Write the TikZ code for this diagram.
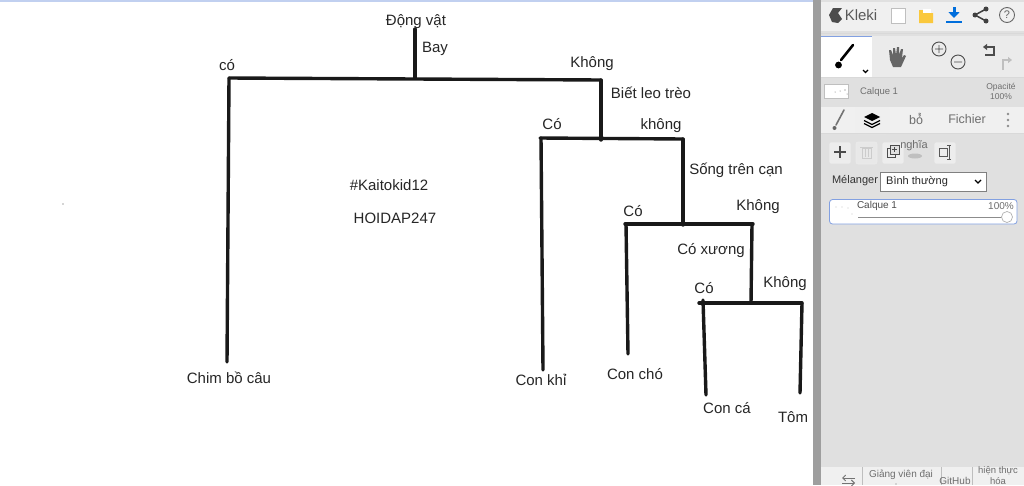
\documentclass[tikz,border=0pt]{standalone}
\usepackage{fontspec}
\setmainfont{Liberation Sans}
\usepackage{xcolor}
\usetikzlibrary{arrows.meta}
\definecolor{NenPanel}{RGB}{224,224,224}
\definecolor{ThanhXam}{RGB}{158,158,158}
\definecolor{ChuXam}{RGB}{110,110,110}
\definecolor{VienXanh}{RGB}{130,160,225}
\definecolor{XanhTai}{RGB}{0,110,220}
\definecolor{VangMo}{RGB}{250,200,60}
\tikzset{
  nhan/.style={font=\fontsize{15}{17}\selectfont,text=black!85,inner sep=0pt},
  nhanh/.style={line width=3.4pt,black!90,line cap=round},
  chunho/.style={font=\fontsize{10}{11}\selectfont,text=ChuXam,inner sep=0pt,align=center},
  tab/.style={font=\fontsize{12.5}{14}\selectfont,text=ChuXam,inner sep=0pt},
  nut/.style={draw=black!12,fill=black!7,rounded corners=2pt,line width=0.6pt},
  bieutuong/.style={line width=1.4pt,black!65}
}
\begin{document}
\begin{tikzpicture}[x=1pt,y=-1pt,>=Latex]
  \useasboundingbox (0,0) rectangle (1024,485);
  \fill[white] (0,0) rectangle (1024,485);
  \fill[VienXanh!50] (0,0) rectangle (1024,1.5);

  % cac nhan cua cay
  \node[nhan] (dongvat) at (416,22) {Động vật};
  \node[nhan] (bay) at (435,49) {Bay};
  \node[nhan] (co1) at (227,65) {có};
  \node[nhan] (khong1) at (592,64) {Không};
  \node[nhan] (leotreo) at (651,93) {Biết leo trèo};
  \node[nhan] (co2) at (552,124) {Có};
  \node[nhan] (khong2) at (661,126) {không};
  \node[nhan] (trencan) at (736,170) {Sống trên cạn};
  \node[nhan] (co3) at (633,211) {Có};
  \node[nhan] (khong3) at (758,207) {Không};
  \node[nhan] (coxuong) at (711,251) {Có xương};
  \node[nhan] (co4) at (704,288) {Có};
  \node[nhan] (khong4) at (785,284) {Không};
  \node[nhan] (chimbocau) at (229,378) {Chim bồ câu};
  \node[nhan] (conkhi) at (541,380) {Con khỉ};
  \node[nhan] (concho) at (635,374) {Con chó};
  \node[nhan] (conca) at (727,408) {Con cá};
  \node[nhan] (tom) at (793,417) {Tôm};
  \node[nhan] (kaitokid) at (389,185) {\#Kaitokid12};
  \node[nhan] (hoidap) at (395,218) {HOIDAP247};
  \fill[black!70] (63,204) circle (0.7pt);

  % cac diem re nhanh
  \coordinate (goc) at (415,29);
  \coordinate (r1) at (415,78);
  \coordinate (r1t) at (229,78);
  \coordinate (r1p) at (601,80);
  \coordinate (r2) at (601,140);
  \coordinate (r2t) at (540,138);
  \coordinate (r2p) at (683,139);
  \coordinate (r3) at (683,225);
  \coordinate (r3t) at (625,224);
  \coordinate (r3p) at (753,224);
  \coordinate (r4) at (751,303);
  \coordinate (r4t) at (699,303);
  \coordinate (r4p) at (802,303);
  \coordinate (l1) at (227,362);
  \coordinate (l2) at (543,370);
  \coordinate (l3) at (628,354);
  \coordinate (l4) at (706,395);
  \coordinate (l5) at (800,393);

  \draw[nhanh] (goc) -- (r1);
  \draw[nhanh] (r1t) -- (r1p);
  \draw[nhanh] (r1t) -- (l1);
  \draw[nhanh] (r1p) -- (r2);
  \draw[nhanh] (r2t) -- (r2p);
  \draw[nhanh] (541,138) -- (l2);
  \draw[nhanh] (r2p) -- (r3);
  \draw[nhanh] (r3t) -- (r3p);
  \draw[nhanh] (626,224) -- (l3);
  \draw[nhanh] (752,224) -- (r4);
  \draw[nhanh] (r4t) -- (r4p);
  \draw[nhanh] (703,300) -- (l4);
  \draw[nhanh] (r4p) -- (l5);

  % khung ben phai
  \fill[NenPanel] (821,0) rectangle (1024,485);
  \fill[ThanhXam] (813,0) rectangle (821,485);
  \fill[black!6] (821,2) rectangle (1024,31);
  \fill[black!8] (821,36) rectangle (1024,77);
  \fill[white] (821,37) rectangle (872,77);
  \draw[VienXanh,line width=1pt] (821,36.5) -- (872,36.5);
  \draw[black!15,line width=0.8pt] (821,33) -- (1024,33) (821,77.5) -- (1024,77.5);

  % hang tren
  \fill[black!70] (833,8) -- (842,8) -- (838,13) -- (842,19) -- (838,23) -- (832,22) -- (829,15) -- cycle;
  \node[font=\fontsize{15}{17}\selectfont,text=black!65,inner sep=0pt] (kleki) at (861,15) {Kleki};
  \draw[black!25,fill=white,line width=0.8pt] (891,8) rectangle (905,23);
  \fill[VangMo] (919,10) -- (925,10) -- (926,13) -- (933,13) -- (933,23) -- (919,23) -- cycle;
  \fill[white] (923,9) rectangle (931,13);
  \draw[XanhTai,line width=3pt,-{Triangle[length=6pt,width=11pt]}] (954,7) -- (954,18);
  \draw[XanhTai,line width=1.5pt] (946,22) -- (962,22);
  \draw[black!75,line width=1.5pt] (986,9) -- (975,15) -- (986,21);
  \fill[black!75] (986,9) circle (2.5pt) (975,15) circle (2.5pt) (986,21) circle (2.5pt);
  \draw[black!60,line width=0.9pt] (1007,15) circle (7.5pt);
  \node[font=\fontsize{11}{12}\selectfont,text=black!60,inner sep=0pt] (aide) at (1007,15) {?};

  % cong cu
  \draw[black,line width=2.6pt,line cap=round] (853,45) -- (841,60);
  \fill[black] (838.5,65) circle (3.4pt);
  \draw[black,line width=1.2pt] (863,70) -- (865.5,72.5) -- (868,70);
  \fill[black!60] (890,60) -- (889,50) -- (891,50) -- (893,55) -- (893,48) -- (895,48) -- (896,55) -- (897,47) -- (899,47) -- (899,55) -- (901,49) -- (903,49) -- (902,58) -- (904,55) -- (906,56) -- (901,67) -- (893,67) -- cycle;
  \draw[black!70,line width=0.9pt] (939,49) circle (7pt) (935,49) -- (943,49) (939,45) -- (939,53);
  \draw[black!70,line width=0.9pt] (958,62) circle (7pt) (954,62) -- (962,62);
  \draw[black!70,line width=1.6pt,-{Triangle[length=4pt,width=6pt]}] (985,55) -- (994,55) -- (994,47) -- (983,47);
  \draw[black!25,line width=1.6pt,-{Triangle[length=4pt,width=6pt]}] (1003,70) -- (1003,60) -- (1012,60) ;

  % lop hien tai
  \draw[black!25,fill=white,line width=0.7pt] (824.5,84.5) rectangle (848.5,98);
  \fill[black!60] (835,92) circle (0.5pt) (840,91) circle (0.5pt) (845,90) circle (0.7pt) (847,94) circle (0.5pt);
  \node[chunho,font=\fontsize{9.5}{11}\selectfont] (calquetren) at (879,92) {Calque 1};
  \node[chunho,font=\fontsize{8.5}{10}\selectfont] (opacite) at (1001,91) {Opacité\\100\%};

  % cac the
  \fill[black!6] (821,107) rectangle (1024,133);
  \fill[NenPanel!50!white,rounded corners=3pt] (855,107) rectangle (889,134);
  \draw[black!55,line width=1.6pt,line cap=round] (844,110) -- (836,125);
  \fill[black!60] (834.5,128) circle (2pt);
  \fill[black] (872,113) -- (880,117) -- (872,121) -- (864,117) -- cycle;
  \draw[black,line width=1.3pt] (864,120.5) -- (872,124.5) -- (880,120.5) (864,123.5) -- (872,127.5) -- (880,123.5);
  \node[tab] (bo) at (916,119) {bỏ̉};
  \node[tab] (fichier) at (967,119) {Fichier};
  \fill[black!45] (1008,114) circle (1.4pt) (1008,120) circle (1.4pt) (1008,126) circle (1.4pt);
  \draw[black!15,line width=0.8pt] (821,133.5) -- (1024,133.5);

  % cac nut lop
  \draw[nut] (829,142) rectangle (851,164);
  \draw[black!70,line width=2.4pt] (834,152) -- (846,152) (840,146) -- (840,158);
  \draw[nut,fill=black!9,draw=black!8] (856,142) rectangle (877,164);
  \draw[black!20,line width=0.9pt] (862,148) rectangle (871,158) (860,147) -- (873,147) (865,149) -- (865,157) (868,149) -- (868,157);
  \draw[nut] (882,142) rectangle (904,164);
  \draw[black!70,line width=1pt] (887,148) rectangle (895,157);
  \draw[black!70,line width=1pt,fill=NenPanel] (890,145) rectangle (899,154);
  \draw[black!70,line width=1pt] (892,149.5) -- (897,149.5) (894.5,147) -- (894.5,152);
  \fill[black!25] (915,156) ellipse (7pt and 2.5pt);
  \node[chunho,font=\fontsize{11}{12}\selectfont] (nghia) at (914,146) {nghĩa};
  \draw[nut] (934,142) rectangle (956,164);
  \draw[black!65,line width=0.9pt] (939,148) rectangle (947,156) (949,145) -- (949,159) (947,145) -- (951,145) (947,159) -- (951,159);

  % che do tron
  \node[font=\fontsize{11}{12}\selectfont,text=black!80,inner sep=0pt] (melanger) at (855,181) {Mélanger};
  \draw[black!50,fill=white,line width=0.7pt] (880,172) rectangle (986,191);
  \node[font=\fontsize{11}{12}\selectfont,text=black!85,inner sep=0pt,anchor=west] (binhthuong) at (886,181.5) {Bình thường};
  \draw[black,line width=1.3pt] (975,180) -- (978,183) -- (981,180);

  % the lop
  \draw[VienXanh,fill=white,line width=0.8pt,rounded corners=3pt] (829.5,199.5) rectangle (1017,224);
  \node[chunho,font=\fontsize{10}{11}\selectfont,text=black!70] (calquelop) at (877,206) {Calque 1};
  \node[chunho,font=\fontsize{10}{11}\selectfont] (phantram) at (1001,206) {100\%};
  \fill[black!60] (836,207) circle (0.4pt) (842,207) circle (0.4pt) (848,208) circle (0.4pt) (852,214) circle (0.4pt);
  \draw[black!45,line width=0.9pt] (858,217.5) -- (1002,217.5);
  \draw[black!30,fill=white,line width=0.7pt] (1007,217) circle (5.5pt);

  % hang duoi
  \fill[black!6] (821,467) rectangle (1024,485);
  \draw[NenPanel!85!black,line width=0.8pt] (862,467) -- (862,485) (941,467) -- (941,485) (972,467) -- (972,485);
  \draw[black!55,line width=0.9pt,-{Straight Barb[length=3pt]}] (855,478) -- (842,478);
  \draw[black!55,line width=0.9pt,-{Straight Barb[length=3pt]}] (842,483) -- (855,483);
  \node[chunho] (giangvien) at (901,475) {Giảng viên đại};
  \fill[black!55] (896,484) circle (0.7pt);
  \node[chunho] (github) at (955,481) {GitHub};
  \node[chunho,font=\fontsize{9.5}{11}\selectfont] (hienthuc) at (998,475.5) {hiện thực\\hóa};
\end{tikzpicture}
\end{document}
